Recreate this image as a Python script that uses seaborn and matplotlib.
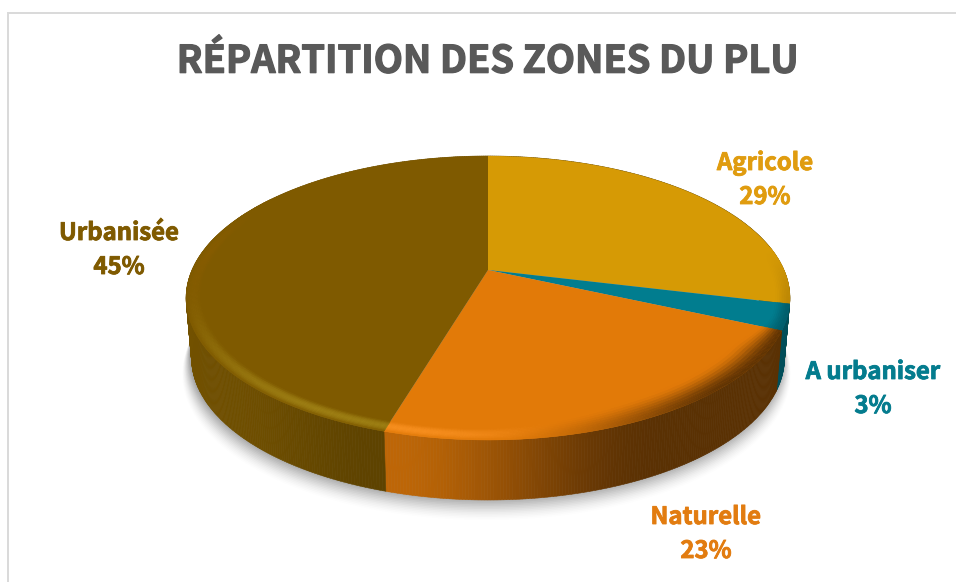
import numpy as np
import matplotlib
matplotlib.use("Agg")
import matplotlib.pyplot as plt
import matplotlib.patheffects as pe
from matplotlib.collections import PolyCollection
from matplotlib.transforms import Transform
import seaborn as sns

# ---- data ----
categories = ["Agricole", "A urbaniser", "Naturelle", "Urbanisée"]
shares = [28.8, 2.9, 22.9, 45.4]
shown_percent = [29, 3, 23, 45]
palette_hex = ["#d69a05", "#017d8f", "#e27a08", "#7f5a00"]
label_hex = ["#e09c0f", "#047c8e", "#e27c10", "#7f5a00"]
title_text = "RÉPARTITION DES ZONES DU PLU"

# ---- layout (pixels of the 956x582 canvas) ----
CX, CY = 488.0, 270.0
B, A, C = 296.0, 136.5, 0.197
DEPTH, SHRINK = 60.0, 0.982
label_xy = [(765, 162), (873, 371), (706, 516), (119, 232)]
LINE = 34

sns.set_theme(style="white")
plt.rcParams["font.family"] = ["Noto Sans CJK SC", "DejaVu Sans"]


def project(x, y, d=0.0):
    """Unit disc -> canvas pixels, with perspective; d in [0,1] walks down the wall."""
    w = 1 + C * y
    k = 1 + (SHRINK - 1) * d
    return CX + B * x / w * k, CY - A * y / w + DEPTH * d


class Perspective(Transform):
    input_dims = output_dims = 2
    is_separable = False
    has_inverse = False

    def transform_non_affine(self, values):
        v = np.asarray(values, float)
        px, py = project(v[:, 0], v[:, 1])
        return np.column_stack([px, py])


def on_rim(theta, r=1.0):
    # theta: degrees clockwise from the top
    t = np.deg2rad(theta)
    return r * np.sin(t), r * np.cos(t)


def mix(c1, c2, t):
    return tuple((1 - t) * a + t * b for a, b in zip(c1, c2))


def smooth(a, b, x):
    t = np.clip((x - a) / (b - a), 0, 1)
    return float(t * t * (3 - 2 * t))


colors = sns.color_palette(palette_hex)
fig = plt.figure(figsize=(9.56, 5.82), dpi=100)
ax = fig.add_axes([0, 0, 1, 1])

edges = np.concatenate([[0], np.cumsum(shares)]) / sum(shares) * 360.0
BLACK = (0.0, 0.0, 0.0)


def steps(i):
    n = max(2, int(round((edges[i + 1] - edges[i]) / 0.5)) + 1)
    return np.linspace(edges[i], edges[i + 1], n)


def wall_shade(i, th):
    base = colors[i]
    name = categories[i]
    if name == "Urbanisée":
        f = 0.86 + 0.04 * smooth(200, 270, th) - 0.12 * (1 - smooth(196, 225, th))
    elif name == "Naturelle":
        f = 0.40 + 0.44 * smooth(150, 196, th) ** 1.2
    elif name == "A urbaniser":
        f = 0.62
    else:
        f = 0.55
    return mix(BLACK, base, f)


def bevel_shade(i, th, s):
    """s = 0 at inner edge of bevel, 1 at rim."""
    base = colors[i]
    name = categories[i]
    bump = np.sin(np.pi * s) ** 0.9
    ramp = smooth(0, 1, s)
    if name == "Urbanisée":
        light = mix(base, (0.62, 0.50, 0.08), smooth(270, 205, th))
        light = mix(light, (0.55, 0.37, 0.01), 0.6 * smooth(240, 280, th))
        return mix(base, light, float(bump) * smooth(305, 275, th))
    if name == "Naturelle":
        glow = smooth(165, 192, th)
        dark = smooth(180, 135, th)
        out = mix(base, (0.97, 0.56, 0.12), float(bump) * glow)
        return mix(out, mix(BLACK, base, 0.42), ramp * dark)
    if name == "A urbaniser":
        return mix(base, mix(BLACK, base, 0.75), ramp)
    return mix(base, mix(BLACK, base, 0.88), ramp * smooth(80, 104, th))


# ground shadow
for k in range(14):
    sc = 1.0 + 0.0018 * (14 - k)
    th = np.linspace(0, 360, 240)
    xr, yr = on_rim(th, sc)
    px, py = project(xr, yr, 1.0)
    ax.fill(px - 1.5, py + 1.2 * (14 - k) - 2, color="#000000", alpha=0.008 + 0.003 * k, lw=0)

# side walls
polys, fills = [], []
for i in range(len(shares)):
    ths = steps(i)
    for a0, a1 in zip(ths[:-1], ths[1:]):
        x0, y0 = on_rim(a0)
        x1, y1 = on_rim(a1)
        polys.append([project(x0, y0, 0), project(x1, y1, 0),
                      project(x1, y1, 1), project(x0, y0, 1)])
        fills.append(wall_shade(i, 0.5 * (a0 + a1)))
ax.add_collection(PolyCollection(polys, facecolors=fills, edgecolors=fills, linewidths=0.4))

# top face: the pie itself, mapped through the perspective
wedges, _ = ax.pie(shares, colors=colors, startangle=90, counterclock=False,
                   radius=1.0, center=(0, 0), frame=True,
                   wedgeprops={"linewidth": 0, "antialiased": True})
persp = Perspective() + ax.transData
for w in wedges:
    w.set_transform(persp)

# bevel around the rim of the top face
polys, fills = [], []
for i in range(len(shares)):
    ths = steps(i)
    for a0, a1 in zip(ths[:-1], ths[1:]):
        mid = 0.5 * (a0 + a1)
        if mid < 80 or mid > 305:
            continue
        # the dark turn of the rim on the right reaches further in
        inner = 0.95 - 0.05 * smooth(108, 125, mid) * smooth(185, 150, mid)
        radii = np.linspace(inner, 1.0, 10)
        for r0, r1 in zip(radii[:-1], radii[1:]):
            s = (0.5 * (r0 + r1) - inner) / (1.0 - inner)
            polys.append([project(*on_rim(a0, r0)), project(*on_rim(a1, r0)),
                          project(*on_rim(a1, r1)), project(*on_rim(a0, r1))])
            fills.append(bevel_shade(i, mid, s))
ax.add_collection(PolyCollection(polys, facecolors=fills, edgecolors=fills, linewidths=0.3))

# chart frame: left and top edges only
ax.plot([8, 8, 956], [582, 12.5, 12.5], color="#d9d9d9", lw=1.4, solid_joinstyle="miter")

# texts
ax.text(488, 72.7, title_text, ha="center", va="baseline", fontsize=27.3,
        fontweight="bold", color="#595959",
        path_effects=[pe.withStroke(linewidth=0.9, foreground="#595959")])
for name, v, (lx, ly), c in zip(categories, shown_percent, label_xy, label_hex):
    for text, yy in ((name, ly + 8), (f"{v}%", ly + 8 + LINE)):
        ax.text(lx, yy, text, ha="center", va="baseline", fontsize=17.2,
                fontweight="bold", color=c,
                path_effects=[pe.withStroke(linewidth=0.6, foreground=c)])

ax.set_aspect("auto")
ax.set_xlim(0, 956)
ax.set_ylim(582, 0)
ax.axis("off")
fig.savefig("out.png", dpi=100, facecolor="white")
